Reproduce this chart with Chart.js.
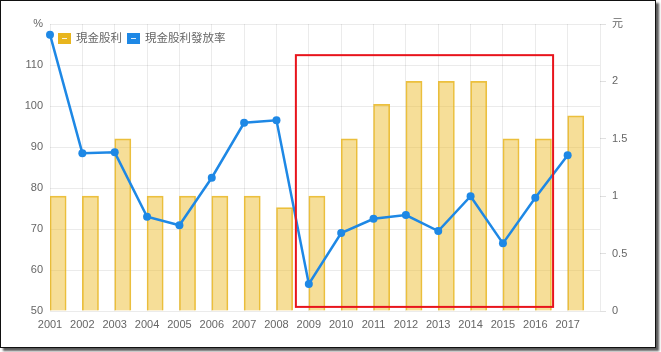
<!DOCTYPE html>
<html>
<head>
<meta charset="utf-8">
<script src="https://cdn.jsdelivr.net/npm/chart.js@4/dist/chart.umd.min.js"></script>
<style>
  html, body { margin: 0; padding: 0; background: #fff; }
  #frame {
    position: absolute; left: 0; top: 0;
    width: 654px; height: 346px;
    border: 1px solid #111;
    box-shadow: 3px 3px 2px rgba(0,0,0,0.65);
    background: #fff;
  }
  #chartCanv { display: block; }
</style>
</head>
<body>
<div id="frame"><canvas id="chartCanv" width="654" height="346"></canvas></div>
<script>
// x labels (last slot is empty, the original axis runs one step past 2017)
const years = ['2001','2002','2003','2004','2005','2006','2007','2008','2009',
               '2010','2011','2012','2013','2014','2015','2016','2017',''];

// 現金股利 (元, right axis)
const cashDividend = [1.0, 1.0, 1.5, 1.0, 1.0, 1.0, 1.0, 0.9, 1.0,
                      1.5, 1.8, 2.0, 2.0, 2.0, 1.5, 1.5, 1.7, null];

// 現金股利發放率 (%, left axis)
const payoutRatio = [117.4, 88.5, 88.7, 73.0, 70.9, 82.5, 95.9, 96.5, 56.6,
                     69.0, 72.5, 73.4, 69.5, 78.0, 66.5, 77.6, 88.0, null];

// empty bar slot so the real bars sit on the right half of each category
const barSpacer = years.map(() => 0);

// red highlight box, in axis units (category index / percent)
const highlightX = [7.6, 15.55];
const highlightY = [51, 112.4];

const gold = 'rgb(232,181,30)';
const blue = '#1e88e5';
const fontFamily = "Arial, 'Liberation Sans', 'Noto Sans CJK TC', sans-serif";

Chart.defaults.font.family = fontFamily;
Chart.defaults.font.size = 11;
Chart.defaults.color = '#666';

// legend drawn inside the plot, top-left, like the original
const insideLegend = {
    id: 'insideLegend',
    afterDraw(chart) {
        const ctx = chart.ctx;
        const area = chart.chartArea;
        let x = area.left + 8;
        const y = area.top + 14;
        ctx.save();
        ctx.font = '11.5px ' + fontFamily;
        ctx.textBaseline = 'middle';
        [[1, gold], [2, blue]].forEach(([i, color]) => {
            ctx.fillStyle = color;
            ctx.fillRect(x, y - 5, 13, 11);
            ctx.fillStyle = 'rgba(255,255,255,0.85)';
            ctx.fillRect(x + 4, y, 5, 1);
            x += 18;
            const text = chart.data.datasets[i].label;
            ctx.fillStyle = '#666';
            ctx.fillText(text, x, y + 1);
            x += ctx.measureText(text).width + 5;
        });
        ctx.restore();
    }
};

const highlightBox = {
    id: 'highlightBox',
    afterDatasetsDraw(chart) {
        const x = chart.scales.x, y = chart.scales.yPct;
        const x0 = x.getPixelForValue(highlightX[0]);
        const x1 = x.getPixelForValue(highlightX[1]);
        const y0 = y.getPixelForValue(highlightY[1]);
        const y1 = y.getPixelForValue(highlightY[0]);
        const ctx = chart.ctx;
        ctx.save();
        ctx.strokeStyle = '#e8141c';
        ctx.lineWidth = 2;
        ctx.strokeRect(x0, y0, x1 - x0, y1 - y0);
        ctx.restore();
    }
};

const chartCanv = document.getElementById('chartCanv');
const mainChart = new Chart(chartCanv, {
    type: 'line',
    data: {
        labels: years,
        datasets: [{
            type: 'bar',
            label: 'spacer',
            data: barSpacer,
            yAxisID: 'yYuan',
            backgroundColor: 'rgba(0,0,0,0)',
            borderWidth: 0,
            categoryPercentage: 1,
            barPercentage: 1,
            order: 1
        },
        {
            type: 'bar',
            label: '現金股利',
            data: cashDividend,
            yAxisID: 'yYuan',
            backgroundColor: 'rgba(237,190,50,0.5)',
            borderColor: 'rgba(232,181,30,0.85)',
            borderWidth: 1,
            categoryPercentage: 1,
            barPercentage: 1,
            order: 2
        },
        {
            type: 'line',
            label: '現金股利發放率',
            data: payoutRatio,
            yAxisID: 'yPct',
            borderColor: blue,
            backgroundColor: blue,
            borderWidth: 2.5,
            pointRadius: 4,
            pointHoverRadius: 4,
            pointBackgroundColor: blue,
            pointBorderWidth: 0,
            tension: 0,
            order: 0
        }]
    },
    options: {
        responsive: false,
        animation: false,
        layout: { padding: { top: 23, left: 0, right: 0, bottom: 0 } },
        plugins: {
            tooltip: { enabled: false },
            legend: { display: false }
        },
        scales: {
            x: {
                offset: false,
                grid: { offset: false, color: 'rgba(0,0,0,0.08)', drawTicks: false },
                border: { display: false },
                ticks: { padding: 7, maxRotation: 0, autoSkip: false },
                afterFit: scale => { scale.height = 36; }
            },
            yPct: {
                position: 'left',
                min: 50,
                max: 120,
                grid: { color: 'rgba(0,0,0,0.08)', drawTicks: false },
                border: { display: false },
                ticks: {
                    stepSize: 10,
                    padding: 7,
                    callback: v => v === 120 ? '%' : v
                },
                afterFit: scale => { scale.width = 49; }
            },
            yYuan: {
                position: 'right',
                min: 0,
                max: 2.5,
                grid: { drawOnChartArea: false, color: 'rgba(0,0,0,0.12)', tickLength: 6 },
                border: { display: false },
                ticks: {
                    stepSize: 0.5,
                    padding: 6,
                    callback: v => v === 2.5 ? '元' : v
                },
                afterFit: scale => { scale.width = 55; }
            }
        }
    },
    plugins: [highlightBox, insideLegend]
});
</script>
</body>
</html>
